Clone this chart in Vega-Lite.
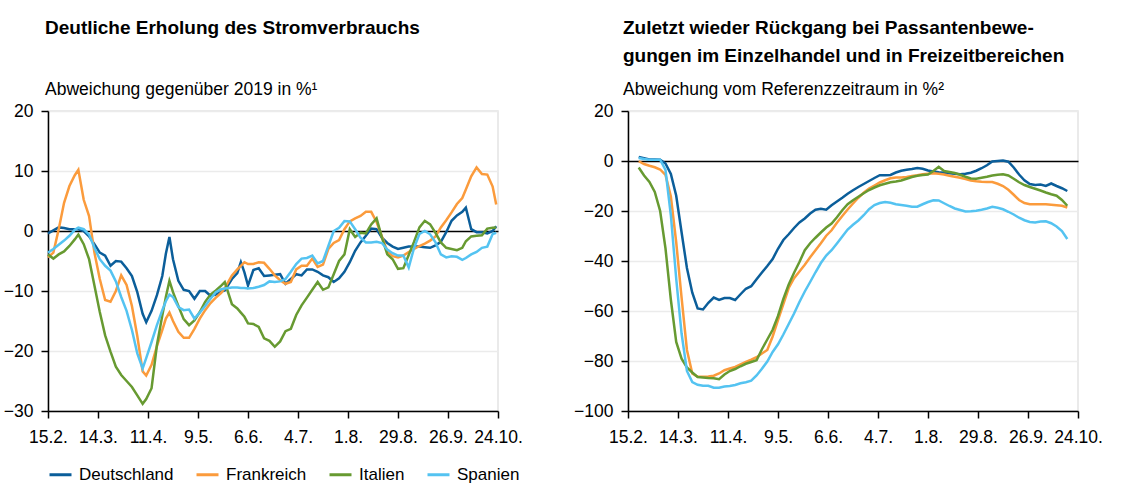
{
  "$schema": "https://vega.github.io/schema/vega-lite/v6.json",
  "background": "white",
  "padding": {"left": 2, "top": 17, "right": 0, "bottom": 0},
  "autosize": {"type": "pad"},
  "spacing": 130,
  "bounds": "flush",
  "config": {
    "font": "Liberation Sans",
    "view": {"stroke": "#e3e3e3", "strokeWidth": 1.5},
    "axis": {"labelFont": "Liberation Sans", "labelFontSize": 17.5, "labelColor": "#000", "domainColor": "#000", "tickColor": "#000", "domainWidth": 1.5, "tickWidth": 1.5, "gridColor": "#ebebeb", "gridWidth": 1.5, "title": null},
    "title": {"font": "Liberation Sans", "fontSize": 19, "fontWeight": "bold", "color": "#000", "lineHeight": 28, "anchor": "start", "frame": "group", "subtitleFont": "Liberation Sans", "subtitleFontSize": 17.5, "subtitleColor": "#000"},
    "legend": {"orient": "bottom", "direction": "horizontal", "title": null, "symbolType": "stroke", "symbolStrokeWidth": 3, "symbolSize": 484, "labelFont": "Liberation Sans", "labelFontSize": 17, "labelColor": "#000", "columnPadding": 16, "labelOffset": 6, "offset": 15}
  },
  "datasets": {
    "strom": [
      {"Datum":"2020-02-15","Deutschland":-0.4,"Frankreich":-4.4,"Italien":-3.9,"Spanien":-3.6},
      {"Datum":"2020-02-18","Deutschland":0.1,"Frankreich":-3.6,"Italien":-4.6,"Spanien":-3.0},
      {"Datum":"2020-02-21","Deutschland":0.6,"Frankreich":0.3,"Italien":-3.9,"Spanien":-2.3},
      {"Datum":"2020-02-24","Deutschland":0.5,"Frankreich":4.7,"Italien":-3.4,"Spanien":-1.6},
      {"Datum":"2020-02-27","Deutschland":0.3,"Frankreich":7.5,"Italien":-2.5,"Spanien":-0.8},
      {"Datum":"2020-03-01","Deutschland":0.3,"Frankreich":9.3,"Italien":-1.4,"Spanien":0.2},
      {"Datum":"2020-03-03","Deutschland":0.3,"Frankreich":10.2,"Italien":-0.6,"Spanien":0.55},
      {"Datum":"2020-03-06","Deutschland":0.0,"Frankreich":5.2,"Italien":-2.2,"Spanien":0.3},
      {"Datum":"2020-03-09","Deutschland":-0.9,"Frankreich":2.5,"Italien":-4.7,"Spanien":-0.6},
      {"Datum":"2020-03-12","Deutschland":-2.2,"Frankreich":-3.6,"Italien":-9.1,"Spanien":-2.8},
      {"Datum":"2020-03-15","Deutschland":-3.6,"Frankreich":-8.0,"Italien":-13.5,"Spanien":-4.7},
      {"Datum":"2020-03-18","Deutschland":-4.1,"Frankreich":-11.5,"Italien":-17.4,"Spanien":-5.8},
      {"Datum":"2020-03-21","Deutschland":-5.8,"Frankreich":-11.8,"Italien":-20.1,"Spanien":-6.6},
      {"Datum":"2020-03-24","Deutschland":-5.0,"Frankreich":-10.0,"Italien":-22.6,"Spanien":-8.4},
      {"Datum":"2020-03-27","Deutschland":-5.1,"Frankreich":-7.4,"Italien":-24.0,"Spanien":-11.0},
      {"Datum":"2020-03-30","Deutschland":-6.2,"Frankreich":-9.0,"Italien":-25.0,"Spanien":-13.3},
      {"Datum":"2020-04-02","Deutschland":-7.5,"Frankreich":-12.5,"Italien":-26.0,"Spanien":-16.5},
      {"Datum":"2020-04-05","Deutschland":-10.2,"Frankreich":-17.5,"Italien":-27.4,"Spanien":-20.4},
      {"Datum":"2020-04-08","Deutschland":-13.8,"Frankreich":-23.4,"Italien":-28.8,"Spanien":-22.9},
      {"Datum":"2020-04-10","Deutschland":-15.2,"Frankreich":-24.1,"Italien":-28.0,"Spanien":-21.2},
      {"Datum":"2020-04-13","Deutschland":-13.3,"Frankreich":-22.3,"Italien":-26.2,"Spanien":-18.5},
      {"Datum":"2020-04-16","Deutschland":-10.7,"Frankreich":-19.2,"Italien":-19.0,"Spanien":-15.7},
      {"Datum":"2020-04-19","Deutschland":-7.5,"Frankreich":-16.5,"Italien":-14.1,"Spanien":-13.2},
      {"Datum":"2020-04-21","Deutschland":-3.8,"Frankreich":-14.6,"Italien":-11.0,"Spanien":-11.7},
      {"Datum":"2020-04-23","Deutschland":-1.0,"Frankreich":-13.6,"Italien":-8.3,"Spanien":-10.6},
      {"Datum":"2020-04-25","Deutschland":-4.7,"Frankreich":-15.0,"Italien":-10.2,"Spanien":-11.0},
      {"Datum":"2020-04-28","Deutschland":-8.3,"Frankreich":-16.8,"Italien":-12.5,"Spanien":-12.7},
      {"Datum":"2020-05-01","Deutschland":-9.8,"Frankreich":-17.8,"Italien":-14.7,"Spanien":-13.2},
      {"Datum":"2020-05-04","Deutschland":-10.0,"Frankreich":-17.8,"Italien":-15.7,"Spanien":-13.1},
      {"Datum":"2020-05-07","Deutschland":-11.3,"Frankreich":-16.3,"Italien":-14.9,"Spanien":-14.6},
      {"Datum":"2020-05-10","Deutschland":-10.0,"Frankreich":-14.6,"Italien":-13.5,"Spanien":-13.6},
      {"Datum":"2020-05-13","Deutschland":-10.0,"Frankreich":-13.2,"Italien":-11.8,"Spanien":-12.5},
      {"Datum":"2020-05-16","Deutschland":-10.8,"Frankreich":-12.0,"Italien":-10.6,"Spanien":-11.3},
      {"Datum":"2020-05-19","Deutschland":-10.6,"Frankreich":-11.1,"Italien":-9.9,"Spanien":-10.2},
      {"Datum":"2020-05-22","Deutschland":-10.1,"Frankreich":-10.3,"Italien":-9.1,"Spanien":-9.7},
      {"Datum":"2020-05-24","Deutschland":-9.9,"Frankreich":-9.5,"Italien":-8.5,"Spanien":-9.6},
      {"Datum":"2020-05-28","Deutschland":-8.0,"Frankreich":-7.4,"Italien":-12.2,"Spanien":-9.4},
      {"Datum":"2020-05-31","Deutschland":-7.0,"Frankreich":-6.4,"Italien":-12.9,"Spanien":-9.4},
      {"Datum":"2020-06-02","Deutschland":-5.2,"Frankreich":-5.8,"Italien":-13.6,"Spanien":-9.5},
      {"Datum":"2020-06-04","Deutschland":-6.9,"Frankreich":-5.2,"Italien":-14.3,"Spanien":-9.5},
      {"Datum":"2020-06-06","Deutschland":-9.1,"Frankreich":-5.5,"Italien":-15.4,"Spanien":-9.6},
      {"Datum":"2020-06-09","Deutschland":-6.5,"Frankreich":-5.5,"Italien":-15.5,"Spanien":-9.5},
      {"Datum":"2020-06-12","Deutschland":-6.2,"Frankreich":-5.2,"Italien":-16.0,"Spanien":-9.3},
      {"Datum":"2020-06-15","Deutschland":-7.5,"Frankreich":-5.3,"Italien":-17.9,"Spanien":-9.0},
      {"Datum":"2020-06-18","Deutschland":-7.4,"Frankreich":-6.3,"Italien":-18.3,"Spanien":-8.4},
      {"Datum":"2020-06-21","Deutschland":-7.3,"Frankreich":-7.4,"Italien":-19.3,"Spanien":-8.5},
      {"Datum":"2020-06-24","Deutschland":-7.2,"Frankreich":-8.2,"Italien":-18.4,"Spanien":-8.4},
      {"Datum":"2020-06-27","Deutschland":-8.8,"Frankreich":-8.8,"Italien":-16.7,"Spanien":-8.0},
      {"Datum":"2020-06-30","Deutschland":-8.0,"Frankreich":-8.5,"Italien":-16.3,"Spanien":-6.8},
      {"Datum":"2020-07-03","Deutschland":-7.2,"Frankreich":-6.4,"Italien":-14.0,"Spanien":-5.5},
      {"Datum":"2020-07-06","Deutschland":-7.4,"Frankreich":-5.8,"Italien":-12.4,"Spanien":-4.6},
      {"Datum":"2020-07-09","Deutschland":-6.4,"Frankreich":-5.8,"Italien":-11.1,"Spanien":-4.5},
      {"Datum":"2020-07-12","Deutschland":-6.4,"Frankreich":-4.6,"Italien":-9.8,"Spanien":-4.1},
      {"Datum":"2020-07-15","Deutschland":-6.8,"Frankreich":-6.0,"Italien":-8.5,"Spanien":-5.4},
      {"Datum":"2020-07-18","Deutschland":-7.4,"Frankreich":-5.6,"Italien":-9.8,"Spanien":-5.0},
      {"Datum":"2020-07-21","Deutschland":-7.7,"Frankreich":-3.0,"Italien":-9.4,"Spanien":-2.5},
      {"Datum":"2020-07-24","Deutschland":-8.5,"Frankreich":-2.0,"Italien":-7.2,"Spanien":0.0},
      {"Datum":"2020-07-27","Deutschland":-7.9,"Frankreich":-1.5,"Italien":-5.0,"Spanien":0.55},
      {"Datum":"2020-07-30","Deutschland":-6.8,"Frankreich":0.3,"Italien":-3.9,"Spanien":1.65},
      {"Datum":"2020-08-02","Deutschland":-5.2,"Frankreich":1.6,"Italien":0.3,"Spanien":1.6},
      {"Datum":"2020-08-05","Deutschland":-3.3,"Frankreich":2.1,"Italien":-1.0,"Spanien":0.3},
      {"Datum":"2020-08-08","Deutschland":-1.9,"Frankreich":2.5,"Italien":-0.3,"Spanien":-1.1},
      {"Datum":"2020-08-11","Deutschland":-0.8,"Frankreich":3.2,"Italien":-0.4,"Spanien":-1.9},
      {"Datum":"2020-08-14","Deutschland":0.4,"Frankreich":3.2,"Italien":1.1,"Spanien":-1.9},
      {"Datum":"2020-08-17","Deutschland":0.3,"Frankreich":1.5,"Italien":2.1,"Spanien":-1.8},
      {"Datum":"2020-08-20","Deutschland":-1.1,"Frankreich":-0.9,"Italien":-1.1,"Spanien":-2.0},
      {"Datum":"2020-08-23","Deutschland":-2.0,"Frankreich":-3.4,"Italien":-3.9,"Spanien":-3.1},
      {"Datum":"2020-08-26","Deutschland":-2.6,"Frankreich":-4.2,"Italien":-4.7,"Spanien":-3.7},
      {"Datum":"2020-08-29","Deutschland":-3.0,"Frankreich":-4.4,"Italien":-6.3,"Spanien":-4.1},
      {"Datum":"2020-09-01","Deutschland":-2.8,"Frankreich":-4.1,"Italien":-6.2,"Spanien":-4.1},
      {"Datum":"2020-09-04","Deutschland":-2.6,"Frankreich":-3.5,"Italien":-4.0,"Spanien":-6.1},
      {"Datum":"2020-09-07","Deutschland":-2.6,"Frankreich":-3.0,"Italien":-1.8,"Spanien":-2.8},
      {"Datum":"2020-09-10","Deutschland":-2.6,"Frankreich":-2.5,"Italien":0.6,"Spanien":-0.5},
      {"Datum":"2020-09-13","Deutschland":-2.7,"Frankreich":-2.1,"Italien":1.7,"Spanien":0.0},
      {"Datum":"2020-09-16","Deutschland":-2.8,"Frankreich":-1.6,"Italien":1.1,"Spanien":-0.55},
      {"Datum":"2020-09-19","Deutschland":-2.4,"Frankreich":-0.9,"Italien":-0.3,"Spanien":-1.9},
      {"Datum":"2020-09-22","Deutschland":-1.8,"Frankreich":0.6,"Italien":-1.9,"Spanien":-3.9},
      {"Datum":"2020-09-25","Deutschland":-0.2,"Frankreich":1.8,"Italien":-2.8,"Spanien":-4.4},
      {"Datum":"2020-09-28","Deutschland":1.7,"Frankreich":3.1,"Italien":-3.0,"Spanien":-4.2},
      {"Datum":"2020-10-01","Deutschland":2.6,"Frankreich":4.5,"Italien":-3.2,"Spanien":-4.3},
      {"Datum":"2020-10-04","Deutschland":3.2,"Frankreich":5.5,"Italien":-2.8,"Spanien":-4.8},
      {"Datum":"2020-10-06","Deutschland":3.9,"Frankreich":6.9,"Italien":-1.7,"Spanien":-4.5},
      {"Datum":"2020-10-09","Deutschland":0.3,"Frankreich":9.1,"Italien":-0.9,"Spanien":-3.9},
      {"Datum":"2020-10-12","Deutschland":-0.2,"Frankreich":10.6,"Italien":-0.8,"Spanien":-3.5},
      {"Datum":"2020-10-15","Deutschland":-0.2,"Frankreich":9.5,"Italien":-0.7,"Spanien":-2.8},
      {"Datum":"2020-10-18","Deutschland":-0.4,"Frankreich":9.4,"Italien":0.4,"Spanien":-2.6},
      {"Datum":"2020-10-21","Deutschland":0.0,"Frankreich":7.4,"Italien":0.55,"Spanien":-0.5},
      {"Datum":"2020-10-23","Deutschland":0.8,"Frankreich":4.4,"Italien":0.6,"Spanien":-0.3}
    ],
    "passanten": [
      {"Datum":"2020-02-21","Deutschland":1.6,"Frankreich":-0.1,"Italien":-2.6,"Spanien":1.2},
      {"Datum":"2020-02-24","Deutschland":1.1,"Frankreich":-1.2,"Italien":-5.8,"Spanien":0.8},
      {"Datum":"2020-02-27","Deutschland":0.6,"Frankreich":-1.9,"Italien":-8.4,"Spanien":0.5},
      {"Datum":"2020-03-01","Deutschland":0.6,"Frankreich":-2.5,"Italien":-12.4,"Spanien":0.5},
      {"Datum":"2020-03-04","Deutschland":0.5,"Frankreich":-3.4,"Italien":-20.0,"Spanien":0.5},
      {"Datum":"2020-03-07","Deutschland":-1.0,"Frankreich":-5.6,"Italien":-35.0,"Spanien":-3.6},
      {"Datum":"2020-03-10","Deutschland":-5.2,"Frankreich":-14.2,"Italien":-55.5,"Spanien":-21.7},
      {"Datum":"2020-03-13","Deutschland":-13.9,"Frankreich":-32.5,"Italien":-72.4,"Spanien":-47.1},
      {"Datum":"2020-03-16","Deutschland":-28.5,"Frankreich":-54.6,"Italien":-79.1,"Spanien":-69.0},
      {"Datum":"2020-03-19","Deutschland":-42.8,"Frankreich":-75.6,"Italien":-82.6,"Spanien":-84.0},
      {"Datum":"2020-03-22","Deutschland":-52.7,"Frankreich":-85.0,"Italien":-84.6,"Spanien":-88.4},
      {"Datum":"2020-03-25","Deutschland":-59.0,"Frankreich":-86.3,"Italien":-86.4,"Spanien":-89.5},
      {"Datum":"2020-03-28","Deutschland":-59.4,"Frankreich":-86.3,"Italien":-86.6,"Spanien":-89.9},
      {"Datum":"2020-03-31","Deutschland":-56.7,"Frankreich":-86.2,"Italien":-86.8,"Spanien":-89.9},
      {"Datum":"2020-04-03","Deutschland":-54.6,"Frankreich":-85.9,"Italien":-86.9,"Spanien":-90.7},
      {"Datum":"2020-04-06","Deutschland":-55.6,"Frankreich":-85.0,"Italien":-87.3,"Spanien":-90.7},
      {"Datum":"2020-04-09","Deutschland":-54.8,"Frankreich":-83.7,"Italien":-85.4,"Spanien":-90.2},
      {"Datum":"2020-04-12","Deutschland":-54.8,"Frankreich":-83.0,"Italien":-84.0,"Spanien":-90.0},
      {"Datum":"2020-04-15","Deutschland":-55.6,"Frankreich":-82.4,"Italien":-83.2,"Spanien":-89.6},
      {"Datum":"2020-04-18","Deutschland":-53.3,"Frankreich":-81.4,"Italien":-82.1,"Spanien":-88.9},
      {"Datum":"2020-04-21","Deutschland":-51.1,"Frankreich":-80.4,"Italien":-81.1,"Spanien":-88.5},
      {"Datum":"2020-04-24","Deutschland":-50.1,"Frankreich":-79.5,"Italien":-80.4,"Spanien":-87.9},
      {"Datum":"2020-04-27","Deutschland":-47.3,"Frankreich":-78.5,"Italien":-79.7,"Spanien":-85.8},
      {"Datum":"2020-04-30","Deutschland":-44.6,"Frankreich":-77.0,"Italien":-75.3,"Spanien":-83.1},
      {"Datum":"2020-05-03","Deutschland":-42.0,"Frankreich":-75.6,"Italien":-71.4,"Spanien":-80.2},
      {"Datum":"2020-05-06","Deutschland":-39.2,"Frankreich":-70.2,"Italien":-67.5,"Spanien":-76.4},
      {"Datum":"2020-05-09","Deutschland":-35.1,"Frankreich":-63.6,"Italien":-62.0,"Spanien":-73.3},
      {"Datum":"2020-05-12","Deutschland":-31.6,"Frankreich":-57.2,"Italien":-55.2,"Spanien":-69.4},
      {"Datum":"2020-05-15","Deutschland":-29.3,"Frankreich":-50.8,"Italien":-49.4,"Spanien":-65.2},
      {"Datum":"2020-05-18","Deutschland":-26.8,"Frankreich":-46.9,"Italien":-44.7,"Spanien":-61.0},
      {"Datum":"2020-05-21","Deutschland":-24.6,"Frankreich":-44.2,"Italien":-40.4,"Spanien":-56.4},
      {"Datum":"2020-05-24","Deutschland":-23.0,"Frankreich":-41.5,"Italien":-35.7,"Spanien":-52.2},
      {"Datum":"2020-05-27","Deutschland":-21.0,"Frankreich":-38.5,"Italien":-32.9,"Spanien":-48.4},
      {"Datum":"2020-05-30","Deutschland":-19.5,"Frankreich":-35.7,"Italien":-30.7,"Spanien":-44.5},
      {"Datum":"2020-06-02","Deutschland":-19.1,"Frankreich":-32.9,"Italien":-28.6,"Spanien":-40.8},
      {"Datum":"2020-06-05","Deutschland":-19.5,"Frankreich":-29.9,"Italien":-26.6,"Spanien":-37.8},
      {"Datum":"2020-06-08","Deutschland":-17.7,"Frankreich":-27.7,"Italien":-25.0,"Spanien":-35.7},
      {"Datum":"2020-06-11","Deutschland":-16.2,"Frankreich":-24.7,"Italien":-22.5,"Spanien":-33.0},
      {"Datum":"2020-06-14","Deutschland":-14.7,"Frankreich":-22.0,"Italien":-19.7,"Spanien":-30.2},
      {"Datum":"2020-06-17","Deutschland":-13.1,"Frankreich":-19.4,"Italien":-17.3,"Spanien":-27.4},
      {"Datum":"2020-06-20","Deutschland":-11.7,"Frankreich":-17.0,"Italien":-15.7,"Spanien":-25.5},
      {"Datum":"2020-06-23","Deutschland":-10.4,"Frankreich":-14.7,"Italien":-14.3,"Spanien":-23.8},
      {"Datum":"2020-06-26","Deutschland":-9.2,"Frankreich":-12.7,"Italien":-12.9,"Spanien":-21.7},
      {"Datum":"2020-06-29","Deutschland":-8.0,"Frankreich":-11.0,"Italien":-11.6,"Spanien":-19.3},
      {"Datum":"2020-07-02","Deutschland":-6.8,"Frankreich":-9.8,"Italien":-10.6,"Spanien":-17.6},
      {"Datum":"2020-07-05","Deutschland":-5.7,"Frankreich":-8.6,"Italien":-9.7,"Spanien":-16.8},
      {"Datum":"2020-07-08","Deutschland":-5.7,"Frankreich":-7.7,"Italien":-9.1,"Spanien":-16.4},
      {"Datum":"2020-07-11","Deutschland":-5.6,"Frankreich":-6.9,"Italien":-8.5,"Spanien":-16.7},
      {"Datum":"2020-07-14","Deutschland":-4.6,"Frankreich":-6.6,"Italien":-8.2,"Spanien":-17.3},
      {"Datum":"2020-07-17","Deutschland":-3.9,"Frankreich":-6.6,"Italien":-7.8,"Spanien":-17.6},
      {"Datum":"2020-07-20","Deutschland":-3.5,"Frankreich":-6.4,"Italien":-7.1,"Spanien":-17.9},
      {"Datum":"2020-07-23","Deutschland":-3.2,"Frankreich":-6.0,"Italien":-6.4,"Spanien":-18.3},
      {"Datum":"2020-07-26","Deutschland":-2.8,"Frankreich":-5.7,"Italien":-5.9,"Spanien":-18.3},
      {"Datum":"2020-07-29","Deutschland":-3.1,"Frankreich":-5.3,"Italien":-5.6,"Spanien":-17.3},
      {"Datum":"2020-08-01","Deutschland":-3.8,"Frankreich":-5.1,"Italien":-5.4,"Spanien":-16.4},
      {"Datum":"2020-08-04","Deutschland":-4.2,"Frankreich":-4.9,"Italien":-4.0,"Spanien":-15.7},
      {"Datum":"2020-08-07","Deutschland":-4.5,"Frankreich":-5.1,"Italien":-2.3,"Spanien":-15.8},
      {"Datum":"2020-08-10","Deutschland":-4.7,"Frankreich":-5.4,"Italien":-4.0,"Spanien":-16.9},
      {"Datum":"2020-08-13","Deutschland":-4.9,"Frankreich":-5.9,"Italien":-4.4,"Spanien":-18.0},
      {"Datum":"2020-08-16","Deutschland":-5.1,"Frankreich":-6.3,"Italien":-4.8,"Spanien":-19.0},
      {"Datum":"2020-08-19","Deutschland":-5.3,"Frankreich":-6.7,"Italien":-5.5,"Spanien":-19.6},
      {"Datum":"2020-08-22","Deutschland":-5.1,"Frankreich":-7.2,"Italien":-6.3,"Spanien":-20.2},
      {"Datum":"2020-08-25","Deutschland":-4.7,"Frankreich":-7.8,"Italien":-7.0,"Spanien":-20.1},
      {"Datum":"2020-08-28","Deutschland":-3.9,"Frankreich":-8.1,"Italien":-7.1,"Spanien":-19.9},
      {"Datum":"2020-08-31","Deutschland":-2.9,"Frankreich":-8.3,"Italien":-6.7,"Spanien":-19.5},
      {"Datum":"2020-09-03","Deutschland":-1.7,"Frankreich":-8.4,"Italien":-6.3,"Spanien":-19.0},
      {"Datum":"2020-09-06","Deutschland":-0.2,"Frankreich":-8.4,"Italien":-5.8,"Spanien":-18.3},
      {"Datum":"2020-09-09","Deutschland":0.0,"Frankreich":-9.1,"Italien":-5.5,"Spanien":-18.7},
      {"Datum":"2020-09-12","Deutschland":0.2,"Frankreich":-10.0,"Italien":-5.3,"Spanien":-19.3},
      {"Datum":"2020-09-15","Deutschland":-0.3,"Frankreich":-11.5,"Italien":-5.8,"Spanien":-20.3},
      {"Datum":"2020-09-18","Deutschland":-2.6,"Frankreich":-13.5,"Italien":-7.1,"Spanien":-21.4},
      {"Datum":"2020-09-21","Deutschland":-5.4,"Frankreich":-15.6,"Italien":-8.5,"Spanien":-22.7},
      {"Datum":"2020-09-24","Deutschland":-7.7,"Frankreich":-16.8,"Italien":-9.6,"Spanien":-23.7},
      {"Datum":"2020-09-27","Deutschland":-9.2,"Frankreich":-17.3,"Italien":-10.4,"Spanien":-24.4},
      {"Datum":"2020-09-30","Deutschland":-9.6,"Frankreich":-17.3,"Italien":-11.1,"Spanien":-24.6},
      {"Datum":"2020-10-03","Deutschland":-9.4,"Frankreich":-17.3,"Italien":-11.8,"Spanien":-24.2},
      {"Datum":"2020-10-06","Deutschland":-10.0,"Frankreich":-17.3,"Italien":-12.6,"Spanien":-24.1},
      {"Datum":"2020-10-09","Deutschland":-9.0,"Frankreich":-17.5,"Italien":-13.3,"Spanien":-24.9},
      {"Datum":"2020-10-12","Deutschland":-10.0,"Frankreich":-17.7,"Italien":-13.9,"Spanien":-26.2},
      {"Datum":"2020-10-15","Deutschland":-10.9,"Frankreich":-17.9,"Italien":-15.6,"Spanien":-28.0},
      {"Datum":"2020-10-18","Deutschland":-12.0,"Frankreich":-18.6,"Italien":-17.9,"Spanien":-31.2}
    ]
  },
  "hconcat": [
    {
      "width": 450,
      "height": 300,
      "title": {"text": "Deutliche Erholung des Stromverbrauchs", "subtitle": "Abweichung gegenüber 2019 in %¹", "subtitlePadding": 43, "offset": 4, "dx": -3},
      "data": {"name": "strom"},
      "transform": [{"fold": ["Deutschland", "Frankreich", "Italien", "Spanien"], "as": ["Land", "Wert"]}],
      "mark": {"type": "line", "strokeWidth": 2.5},
      "encoding": {
        "x": {"field": "Datum", "type": "temporal",
          "scale": {"type": "utc", "nice": false, "domain": [{"year": 2020, "month": 2, "date": 15, "utc": true}, {"year": 2020, "month": 10, "date": 24, "utc": true}]},
          "axis": {"values": [{"year": 2020, "month": 2, "date": 15, "utc": true}, {"year": 2020, "month": 3, "date": 14, "utc": true}, {"year": 2020, "month": 4, "date": 11, "utc": true}, {"year": 2020, "month": 5, "date": 9, "utc": true}, {"year": 2020, "month": 6, "date": 6, "utc": true}, {"year": 2020, "month": 7, "date": 4, "utc": true}, {"year": 2020, "month": 8, "date": 1, "utc": true}, {"year": 2020, "month": 8, "date": 29, "utc": true}, {"year": 2020, "month": 9, "date": 26, "utc": true}, {"year": 2020, "month": 10, "date": 24, "utc": true}],
            "labelExpr": "utcFormat(datum.value, '%-d.%-m.')", "grid": false, "tickSize": 7, "labelPadding": 10, "labelFlush": false, "labelOverlap": false}},
        "y": {"field": "Wert", "type": "quantitative",
          "scale": {"domain": [-30, 20], "nice": false, "zero": false},
          "axis": {"values": [-30, -20, -10, 0, 10, 20], "tickSize": 7, "labelPadding": 8,
            "gridColor": {"condition": {"test": "datum.value === 0", "value": "#000000"}, "value": "#ebebeb"}}},
        "color": {"field": "Land", "type": "nominal",
          "scale": {"domain": ["Deutschland", "Frankreich", "Italien", "Spanien"], "range": ["#0b5e9a", "#fb9b3c", "#679a31", "#54c3f1"]}}
      }
    },
    {
      "width": 450,
      "height": 300,
      "title": {"text": ["Zuletzt wieder Rückgang bei Passantenbewe-", "gungen im Einzelhandel und in Freizeitbereichen"], "subtitle": "Abweichung vom Referenzzeitraum in %²", "subtitlePadding": 15, "offset": 4, "dx": -5},
      "data": {"name": "passanten"},
      "transform": [{"fold": ["Deutschland", "Frankreich", "Italien", "Spanien"], "as": ["Land", "Wert"]}],
      "mark": {"type": "line", "strokeWidth": 2.5},
      "encoding": {
        "x": {"field": "Datum", "type": "temporal",
          "scale": {"type": "utc", "nice": false, "domain": [{"year": 2020, "month": 2, "date": 15, "utc": true}, {"year": 2020, "month": 10, "date": 24, "utc": true}]},
          "axis": {"values": [{"year": 2020, "month": 2, "date": 15, "utc": true}, {"year": 2020, "month": 3, "date": 14, "utc": true}, {"year": 2020, "month": 4, "date": 11, "utc": true}, {"year": 2020, "month": 5, "date": 9, "utc": true}, {"year": 2020, "month": 6, "date": 6, "utc": true}, {"year": 2020, "month": 7, "date": 4, "utc": true}, {"year": 2020, "month": 8, "date": 1, "utc": true}, {"year": 2020, "month": 8, "date": 29, "utc": true}, {"year": 2020, "month": 9, "date": 26, "utc": true}, {"year": 2020, "month": 10, "date": 24, "utc": true}],
            "labelExpr": "utcFormat(datum.value, '%-d.%-m.')", "grid": false, "tickSize": 7, "labelPadding": 10, "labelFlush": false, "labelOverlap": false}},
        "y": {"field": "Wert", "type": "quantitative",
          "scale": {"domain": [-100, 20], "nice": false, "zero": false},
          "axis": {"values": [-100, -80, -60, -40, -20, 0, 20], "tickSize": 7, "labelPadding": 8,
            "gridColor": {"condition": {"test": "datum.value === 0", "value": "#000000"}, "value": "#ebebeb"}}},
        "color": {"field": "Land", "type": "nominal",
          "scale": {"domain": ["Deutschland", "Frankreich", "Italien", "Spanien"], "range": ["#0b5e9a", "#fb9b3c", "#679a31", "#54c3f1"]}}
      }
    }
  ],
  "resolve": {"scale": {"color": "shared"}}
}
